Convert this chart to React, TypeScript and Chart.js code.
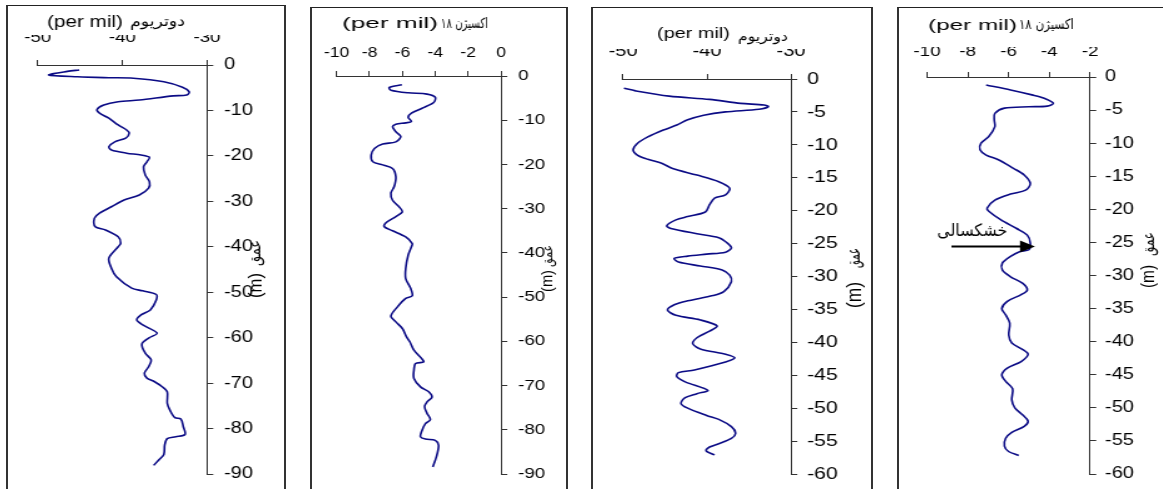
import React, { useEffect, useRef } from "react";
import { Chart, registerables } from "chart.js";

Chart.register(...registerables);

// ---------------- DATA ----------------
// Panel 1: deuterium (per mil) vs depth (m)
const depth1 = [
  -1.1, -1.4, -2.2, -2.6, -2.8, -2.9, -3.7, -4.9, -5.9, -6.6,
  -6.8, -7.7, -8.1, -8.8, -9.8, -10.6, -11.7, -13.2, -14.3, -15.0,
  -16.1, -16.9, -18.0, -18.7, -19.4, -19.8, -20.3, -21.3, -22.4, -24.2,
  -25.7, -27.1, -28.6, -29.7, -31.2, -32.6, -33.7, -35.6, -36.3, -37.8,
  -39.2, -40.0, -42.5, -44.7, -46.6, -49.1, -49.7, -50.5, -51.7, -53.9,
  -55.0, -56.1, -57.2, -59.0, -60.1, -61.4, -63.4, -64.9, -66.4, -67.8,
  -68.9, -69.7, -70.8, -71.9, -74.4, -75.9, -77.6, -77.9, -79.6, -81.3,
  -81.8, -82.2, -83.6, -85.7, -86.9, -88.1,
];
const deuterium1 = [
  -45.1, -46.5, -48.7, -45.3, -41.6, -38.7, -35.1, -32.9, -32.1, -32.4,
  -34.0, -38.0, -40.5, -42.2, -43.0, -42.7, -41.6, -40.5, -39.5, -39.2,
  -39.6, -40.9, -41.6, -41.3, -39.5, -37.8, -36.8, -37.1, -37.5, -37.3,
  -36.8, -36.9, -38.0, -39.8, -41.3, -42.7, -43.3, -43.2, -42.0, -40.5,
  -40.2, -40.5, -41.6, -41.3, -40.7, -38.9, -37.6, -36.0, -36.0, -36.7,
  -37.8, -38.3, -37.6, -35.9, -36.9, -37.7, -37.3, -36.6, -36.9, -37.4,
  -37.1, -36.2, -35.3, -34.7, -34.7, -34.4, -33.8, -33.1, -32.8, -32.6,
  -33.7, -34.7, -35.0, -35.1, -35.7, -36.3,
];

// Panel 2: oxygen-18 (per mil) vs depth (m)
const depth2 = [
  -2.0, -2.6, -3.2, -3.8, -4.1, -4.8, -6.0, -7.3, -8.4, -9.3,
  -10.3, -10.6, -10.9, -11.5, -12.6, -13.7, -14.9, -15.4, -16.4, -17.9,
  -19.4, -20.1, -20.9, -22.8, -25.0, -26.5, -28.1, -29.6, -30.7, -31.8,
  -33.2, -34.1, -35.0, -36.4, -37.9, -38.6, -40.5, -43.5, -45.8, -48.0,
  -49.7, -50.3, -52.2, -54.3, -55.6, -57.1, -59.0, -60.1, -62.0, -64.6,
  -65.0, -66.5, -68.4, -70.3, -71.4, -72.6, -73.7, -74.8, -76.3, -77.7,
  -78.6, -80.1, -81.6, -82.1, -82.4, -83.5, -85.7, -86.9, -88.4,
];
const oxygen2 = [
  -6.03, -6.8, -6.7, -5.65, -4.5, -4.0, -4.1, -4.8, -5.45, -5.65,
  -5.45, -5.8, -6.4, -6.6, -6.4, -6.1, -6.4, -7.2, -7.7, -7.9,
  -7.8, -7.2, -6.6, -6.4, -6.5, -6.7, -6.6, -6.2, -6.0, -6.4,
  -7.0, -7.1, -6.6, -5.8, -5.4, -5.45, -5.65, -5.8, -5.8, -5.5,
  -5.4, -5.8, -6.3, -6.7, -6.4, -6.0, -5.75, -5.55, -5.3, -4.7,
  -5.2, -5.3, -5.3, -4.9, -4.4, -4.2, -4.5, -4.65, -4.5, -4.3,
  -4.6, -4.8, -4.9, -4.6, -4.0, -3.8, -3.9, -4.0, -4.15,
];

// Panel 3: deuterium (per mil) vs depth (m)
const depth3 = [
  -1.4, -1.8, -2.6, -3.1, -3.7, -3.95, -4.2, -4.6, -5.0, -5.5,
  -6.2, -7.0, -7.75, -8.8, -9.8, -10.8, -11.55, -12.2, -12.8, -13.6,
  -14.6, -15.6, -16.6, -17.6, -18.1, -19.1, -20.2, -20.9, -21.4, -22.3,
  -22.7, -23.5, -24.1, -25.0, -25.7, -26.3, -26.6, -26.9, -27.25, -27.8,
  -28.4, -29.0, -29.8, -30.8, -32.3, -32.9, -33.7, -34.3, -35.1, -35.9,
  -36.6, -37.5, -38.3, -39.3, -40.2, -41.0, -41.8, -42.35, -43.0, -44.2,
  -44.6, -45.2, -46.0, -47.3, -47.8, -48.4, -49.3, -50.0, -51.1, -51.7,
  -52.8, -53.8, -54.6, -55.4, -55.9, -56.5, -57.1,
];
const deuterium3 = [
  -49.9, -48.5, -44.5, -39.7, -36.0, -33.2, -32.7, -33.8, -37.8, -40.4,
  -42.3, -43.6, -45.2, -47.05, -48.3, -48.8, -48.3, -47.05, -45.4, -44.1,
  -41.2, -38.6, -37.3, -37.8, -39.1, -39.7, -40.2, -42.3, -43.7, -44.8,
  -44.3, -41.2, -38.6, -37.5, -37.1, -37.8, -40.05, -42.3, -43.9, -43.4,
  -40.8, -38.2, -37.3, -37.1, -38.0, -39.3, -42.3, -43.9, -44.7, -43.7,
  -40.8, -38.8, -39.7, -41.2, -41.7, -40.8, -37.8, -36.7, -37.8, -41.5,
  -43.4, -43.6, -42.6, -39.9, -41.2, -42.6, -43.1, -42.3, -40.05, -38.6,
  -37.1, -36.6, -37.1, -38.6, -39.7, -40.1, -39.1,
];

// Panel 4: oxygen-18 (per mil) vs depth (m)
const depth4 = [
  -1.2, -1.96, -2.7, -3.2, -3.97, -4.4, -4.5, -4.7, -5.5, -6.5,
  -7.5, -9.0, -10.0, -11.0, -11.8, -12.5, -13.8, -14.8, -16.1, -17.1,
  -17.7, -18.6, -19.8, -20.3, -21.6, -22.9, -23.9, -25.1, -26.1, -26.4,
  -27.1, -28.1, -29.2, -30.2, -31.2, -32.2, -32.9, -33.9, -35.0, -35.95,
  -37.2, -39.0, -40.2, -41.2, -41.9, -43.0, -44.0, -45.0, -46.0, -47.1,
  -48.8, -50.0, -51.1, -52.0, -52.8, -53.7, -54.6, -55.8, -56.6, -57.2,
];
const oxygen4 = [
  -7.1, -5.9, -4.85, -4.25, -3.8, -4.1, -5.0, -6.2, -6.67, -6.7,
  -6.67, -6.97, -7.35, -7.4, -7.1, -6.5, -5.76, -5.23, -4.93, -5.16,
  -5.9, -6.67, -7.05, -6.97, -6.37, -5.6, -5.08, -4.93, -5.0, -5.46,
  -5.9, -6.3, -6.3, -5.9, -5.3, -5.08, -5.38, -6.06, -6.33, -6.14,
  -5.94, -5.99, -5.84, -5.3, -5.04, -5.38, -6.06, -6.33, -6.14, -5.8,
  -5.84, -5.69, -5.3, -5.04, -5.23, -5.84, -6.14, -6.2, -6.0, -5.5,
];

// Tick values
const xTicksDeuterium = [-50, -40, -30];
const xTicksOxygen2 = [-10, -8, -6, -4, -2, 0];
const xTicksOxygen4 = [-10, -8, -6, -4, -2];
const yTicksDeep = [0, -10, -20, -30, -40, -50, -60, -70, -80, -90];
const yTicksShallow = [0, -5, -10, -15, -20, -25, -30, -35, -40, -45, -50, -55, -60];

// Texts
const unitText = "(per mil)";
const deuteriumName = "دوتریوم";
const oxygenName = "۱۸ اکسیژن";
const depthUnit = "(m)";
const depthName = "عمق";
const droughtLabel = "خشکسالی";
// Drought annotation (data coordinates of panel 4)
const droughtArrowFrom = -8.8;
const droughtArrowTo = -4.7;
const droughtArrowDepth = -25.6;
const droughtLabelX = -7.78;
const droughtLabelDepth = -23.3;

// ---------------- STYLE / LAYOUT ----------------
const LATIN = "'Liberation Sans', Arial, Helvetica, sans-serif";
const PERSIAN = "'DejaVu Sans', 'Noto Sans', sans-serif";
const LINE_COLOR = "#0b0b85";
const AXIS_COLOR = "#333333";
const STRETCH = 1.25;
const PAGE_W = 1163;
const PAGE_H = 489;
const XH = 30;
const YW = 40;

type Run = { text: string; x0: number; x1: number; y: number; size: number; family: string };
type Panel = {
  box: { left: number; top: number; right: number };
  area: { L: number; R: number; T: number; B: number };
  depth: number[];
  values: number[];
  xTicks: number[];
  yTicks: number[];
  tickSize: number;
  xPad: number;
  yPad: number;
  titleRuns: Run[];
  yTitle: { x: number; m: [number, number]; a: [number, number]; mSize: number; aSize: number };
  arrow?: boolean;
};

const panels: Panel[] = [
  {
    box: { left: 7, top: 6, right: 285 },
    area: { L: 23, R: 207, T: 65, B: 474 },
    depth: depth1,
    values: deuterium1,
    xTicks: xTicksDeuterium,
    yTicks: yTicksDeep,
    tickSize: 15,
    xPad: 13,
    yPad: 8.6,
    titleRuns: [
      { text: unitText, x0: 47, x1: 123, y: 23, size: 16, family: LATIN },
      { text: deuteriumName, x0: 130, x1: 185, y: 22, size: 15, family: PERSIAN },
    ],
    yTitle: { x: 256, m: [298, 273], a: [266, 240], mSize: 15, aSize: 14 },
  },
  {
    box: { left: 311, top: 8, right: 567 },
    area: { L: 328, R: 501, T: 76, B: 474 },
    depth: depth2,
    values: oxygen2,
    xTicks: xTicksOxygen2,
    yTicks: yTicksDeep,
    tickSize: 14,
    xPad: 9.6,
    yPad: 8.6,
    titleRuns: [
      { text: unitText, x0: 342, x1: 438, y: 24, size: 15, family: LATIN },
      { text: oxygenName, x0: 441, x1: 488, y: 24, size: 14, family: PERSIAN },
    ],
    yTitle: { x: 548, m: [292, 270], a: [267, 245], mSize: 13, aSize: 12 },
  },
  {
    box: { left: 592, top: 8, right: 872 },
    area: { L: 610, R: 791, T: 79, B: 474 },
    depth: depth3,
    values: deuterium3,
    xTicks: xTicksDeuterium,
    yTicks: yTicksShallow,
    tickSize: 16,
    xPad: 12.4,
    yPad: 7.8,
    titleRuns: [
      { text: unitText, x0: 657, x1: 730, y: 34, size: 15, family: LATIN },
      { text: deuteriumName, x0: 738, x1: 788, y: 37, size: 14, family: PERSIAN },
    ],
    yTitle: { x: 855, m: [308, 282], a: [268, 248], mSize: 16, aSize: 15 },
  },
  {
    box: { left: 898, top: 8, right: 1185 },
    area: { L: 913, R: 1090, T: 77, B: 474 },
    depth: depth4,
    values: oxygen4,
    xTicks: xTicksOxygen4,
    yTicks: yTicksShallow,
    tickSize: 15,
    xPad: 11.6,
    yPad: 7,
    titleRuns: [
      { text: unitText, x0: 928, x1: 1017, y: 26, size: 15, family: LATIN },
      { text: oxygenName, x0: 1019, x1: 1074, y: 25, size: 14, family: PERSIAN },
    ],
    yTitle: { x: 1149, m: [288, 265], a: [256, 232], mSize: 15, aSize: 14 },
    arrow: true,
  },
];

function clampK(k: number) {
  return Math.max(0.5, Math.min(2, k));
}

function PanelChart({ p }: { p: Panel }) {
  const ref = useRef<HTMLCanvasElement | null>(null);
  const cLeft = p.box.left + 1;
  const cRight = p.box.right - 1;
  const cTop = p.box.top + 1;
  const cBottom = PAGE_H + 24;
  const cssW = cRight - cLeft;
  const cssH = cBottom - cTop;
  const W = Math.round(cssW / STRETCH);
  const Sx = cssW / W;

  useEffect(() => {
    const canvas = ref.current;
    if (!canvas) return;
    const toX = (px: number) => (px - cLeft) / Sx;
    const toY = (py: number) => py - cTop;

    const textPlugin = {
      id: "panelText",
      afterDraw(chart: any) {
        const ctx: CanvasRenderingContext2D = chart.ctx;
        ctx.save();
        ctx.fillStyle = "#000";
        ctx.textBaseline = "middle";
        ctx.textAlign = "left";
        try {
          (ctx as any).direction = "ltr";
        } catch (e) {}
        for (const r of p.titleRuns) {
          ctx.font = `${r.size}px ${r.family}`;
          const w = ctx.measureText(r.text).width;
          const k = clampK((r.x1 - r.x0) / Sx / w);
          ctx.save();
          ctx.translate(toX(r.x0), toY(r.y));
          ctx.scale(k, 1);
          ctx.fillText(r.text, 0, 0);
          ctx.restore();
        }
        const yt = p.yTitle;
        const drawRot = (text: string, size: number, family: string, yb: number, ytop: number) => {
          ctx.font = `${size}px ${family}`;
          const w = ctx.measureText(text).width;
          const k = clampK((yb - ytop) / w);
          ctx.save();
          ctx.translate(toX(yt.x), toY(yb));
          ctx.rotate(-Math.PI / 2);
          ctx.scale(k, 1);
          ctx.fillText(text, 0, 0);
          ctx.restore();
        };
        drawRot(depthUnit, yt.mSize, LATIN, yt.m[0], yt.m[1]);
        drawRot(depthName, yt.aSize, PERSIAN, yt.a[0], yt.a[1]);

        if (p.arrow) {
          const xs = chart.scales.x;
          const ys = chart.scales.y;
          const x0 = xs.getPixelForValue(droughtArrowFrom);
          const x1 = xs.getPixelForValue(droughtArrowTo);
          const y = ys.getPixelForValue(droughtArrowDepth);
          const headL = 15 / Sx;
          const headH = 6;
          ctx.strokeStyle = "#000";
          ctx.lineWidth = 2;
          ctx.beginPath();
          ctx.moveTo(x0, y);
          ctx.lineTo(x1 - headL + 1, y);
          ctx.stroke();
          ctx.beginPath();
          ctx.moveTo(x1, y);
          ctx.lineTo(x1 - headL, y - headH);
          ctx.lineTo(x1 - headL, y + headH);
          ctx.closePath();
          ctx.fill();
          ctx.font = `17px ${PERSIAN}`;
          const w = ctx.measureText(droughtLabel).width;
          const k = clampK(70 / Sx / w);
          ctx.save();
          ctx.translate(xs.getPixelForValue(droughtLabelX), ys.getPixelForValue(droughtLabelDepth));
          ctx.scale(k, 1);
          ctx.textAlign = "center";
          ctx.fillText(droughtLabel, 0, 0);
          ctx.restore();
        }
        ctx.restore();
      },
    };

    const padding = {
      left: (p.area.L - cLeft) / Sx,
      right: (cRight - p.area.R) / Sx - YW,
      top: p.area.T - cTop - XH,
      bottom: cBottom - p.area.B,
    };

    const chart = new Chart(canvas, {
      type: "scatter",
      data: {
        datasets: [
          {
            data: p.depth.map((d, i) => ({ x: p.values[i], y: d })),
            showLine: true,
            borderColor: LINE_COLOR,
            backgroundColor: LINE_COLOR,
            borderWidth: 1.6,
            pointRadius: 0,
            pointHoverRadius: 0,
            tension: 0.3,
            fill: false,
          } as any,
        ],
      },
      options: {
        animation: false,
        responsive: false,
        maintainAspectRatio: false,
        events: [],
        layout: { padding },
        plugins: {
          legend: { display: false },
          tooltip: { enabled: false },
          title: { display: false },
        },
        scales: {
          x: {
            type: "linear",
            position: "top",
            min: p.xTicks[0],
            max: p.xTicks[p.xTicks.length - 1],
            afterBuildTicks: (s: any) => {
              s.ticks = p.xTicks.map((v) => ({ value: v }));
            },
            afterFit: (s: any) => {
              s.height = XH;
            },
            grid: {
              display: true,
              drawOnChartArea: false,
              drawTicks: true,
              tickLength: 5,
              color: AXIS_COLOR,
              lineWidth: 1,
            },
            border: { display: true, color: AXIS_COLOR, width: 1 },
            ticks: {
              color: "#000",
              font: { family: LATIN, size: p.tickSize },
              padding: p.xPad,
              maxRotation: 0,
              minRotation: 0,
              autoSkip: false,
              callback: (v: any) => String(v),
            },
          },
          y: {
            type: "linear",
            position: "right",
            min: p.yTicks[p.yTicks.length - 1],
            max: p.yTicks[0],
            afterBuildTicks: (s: any) => {
              s.ticks = p.yTicks.map((v) => ({ value: v }));
            },
            afterFit: (s: any) => {
              s.width = YW;
            },
            grid: {
              display: true,
              drawOnChartArea: false,
              drawTicks: true,
              tickLength: 5,
              color: AXIS_COLOR,
              lineWidth: 1,
            },
            border: { display: true, color: AXIS_COLOR, width: 1 },
            ticks: {
              color: "#000",
              font: { family: LATIN, size: p.tickSize + 1 },
              padding: p.yPad,
              autoSkip: false,
              callback: (v: any) => String(v),
            },
          },
        },
      } as any,
      plugins: [textPlugin as any],
    });
    return () => chart.destroy();
  }, []);

  return (
    <>
      <div
        style={{
          position: "absolute",
          left: p.box.left - 1,
          top: p.box.top - 1,
          width: p.box.right - p.box.left + 2,
          height: 600,
          boxSizing: "border-box",
          borderLeft: "2px solid #333",
          borderRight: "2px solid #333",
          borderTop: "1px solid #222",
        }}
      />
      <canvas
        ref={ref}
        width={W}
        height={cssH}
        style={{
          position: "absolute",
          left: cLeft,
          top: cTop,
          width: cssW,
          height: cssH,
        }}
      />
    </>
  );
}

export default function App() {
  return (
    <div
      style={{
        position: "fixed",
        left: 0,
        top: 0,
        width: PAGE_W,
        height: PAGE_H,
        overflow: "hidden",
        background: "#fff",
      }}
    >
      {panels.map((p, i) => (
        <PanelChart key={i} p={p} />
      ))}
    </div>
  );
}
